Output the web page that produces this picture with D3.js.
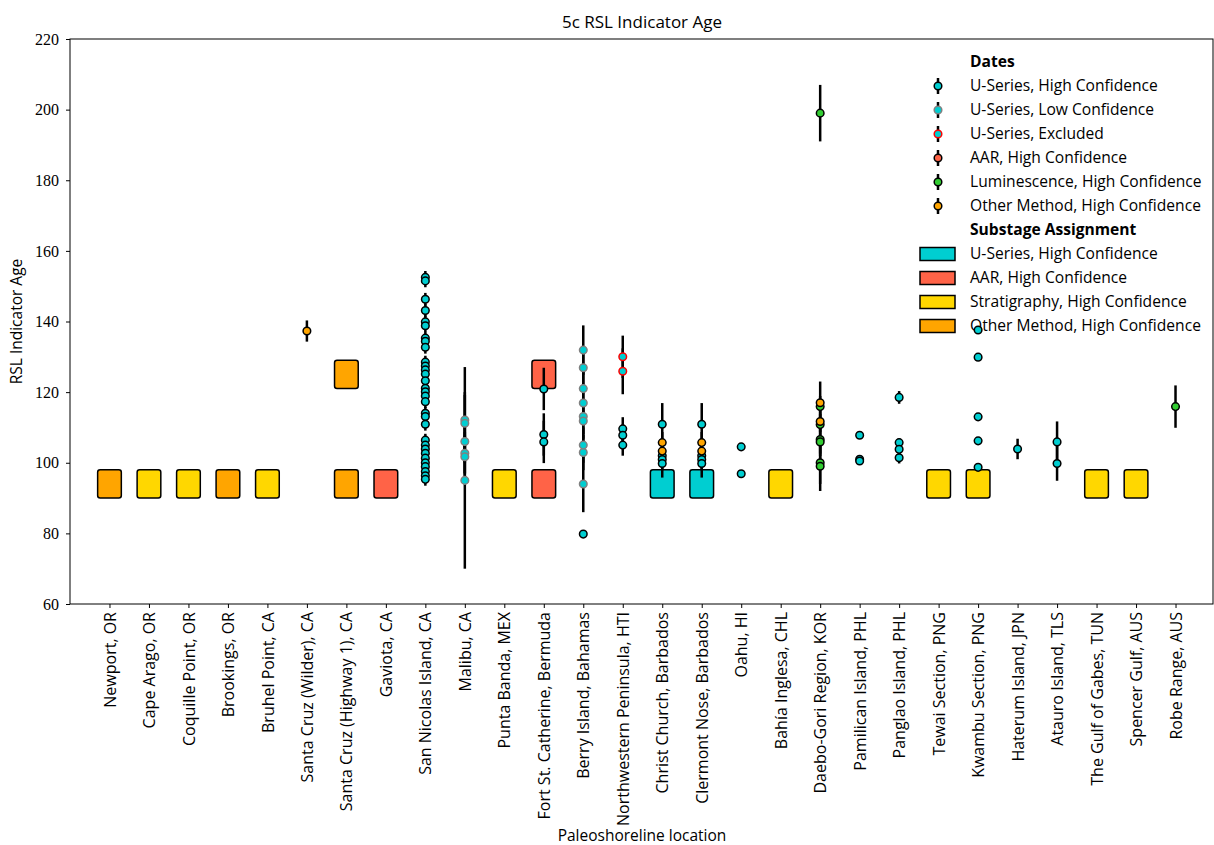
<!DOCTYPE html>
<html>
<head>
<meta charset="utf-8">
<script src="https://d3js.org/d3.v7.min.js"></script>
<style>
body { margin: 0; background: #fff; }
text { font-family: "Open Sans", Lato, sans-serif; }
</style>
</head>
<body>
<svg id="chart" width="1214" height="845"></svg>
<script>
// sites along the x axis
var sites = ["Newport, OR", "Cape Arago, OR", "Coquille Point, OR", "Brookings, OR", "Bruhel Point, CA",
  "Santa Cruz (Wilder), CA", "Santa Cruz (Highway 1), CA", "Gaviota, CA", "San Nicolas Island, CA", "Malibu, CA",
  "Punta Banda, MEX", "Fort St. Catherine, Bermuda", "Berry Island, Bahamas", "Northwestern Peninsula, HTI",
  "Christ Church, Barbados", "Clermont Nose, Barbados", "Oahu, HI", "Bahía Inglesa, CHL", "Daebo-Gori Region, KOR",
  "Pamilican Island, PHL", "Panglao Island, PHL", "Tewai Section, PNG", "Kwambu Section, PNG", "Haterum Island, JPN",
  "Atauro Island, TLS", "The Gulf of Gabes, TUN", "Spencer Gulf, AUS", "Robe Range, AUS"];

var yTicks = [60, 80, 100, 120, 140, 160, 180, 200, 220];

// substage boxes: site index, bottom, top, method
var boxSite   = [0, 1, 2, 3, 4, 6, 6, 7, 10, 11, 11, 14, 15, 17, 21, 22, 25, 26];
var boxBottom = [90, 90, 90, 90, 90, 121, 90, 90, 90, 121, 90, 90, 90, 90, 90, 90, 90, 90];
var boxTop    = [98, 98, 98, 98, 98, 129, 98, 98, 98, 129, 98, 98, 98, 98, 98, 98, 98, 98];
var boxMethod = ["other", "strat", "strat", "other", "strat", "other", "other", "aar", "strat", "aar", "aar",
  "useries", "useries", "strat", "strat", "strat", "strat", "strat"];

// dates: [site index, age, error]
var uHigh = [
  [8, 152.5, 1.8], [8, 151.5, 1.8], [8, 146.3, 1.8], [8, 143.1, 1.8], [8, 139.9, 1.8], [8, 138.8, 1.8],
  [8, 135.3, 1.8], [8, 134.4, 1.8], [8, 132.7, 1.8], [8, 128.5, 1.8], [8, 127.4, 1.8], [8, 126.3, 1.8],
  [8, 125.1, 1.8], [8, 123.2, 1.8], [8, 121.1, 1.8], [8, 120.1, 1.8], [8, 118.9, 1.8], [8, 117.3, 1.8],
  [8, 114.0, 1.8], [8, 113.1, 1.8], [8, 110.9, 1.8], [8, 106.4, 1.8], [8, 105.0, 1.8], [8, 103.9, 1.8],
  [8, 102.7, 1.8], [8, 101.3, 1.8], [8, 100.0, 1.8], [8, 98.9, 1.8], [8, 97.5, 1.8], [8, 96.3, 1.8], [8, 95.3, 1.8],
  [11, 120.9, 6], [11, 108.0, 6], [11, 105.9, 6],
  [12, 79.8, 0],
  [13, 109.6, 3.3], [13, 107.8, 3], [13, 105.0, 3],
  [14, 110.9, 6], [14, 102.0, 3], [14, 100.9, 3], [14, 99.8, 4],
  [15, 110.9, 6], [15, 102.0, 3], [15, 100.9, 3], [15, 99.8, 4],
  [16, 104.5, 0.5], [16, 96.9, 0.5],
  [19, 107.8, 0.8], [19, 101.0, 0.8], [19, 100.5, 0.6],
  [20, 118.5, 1.8], [20, 105.7, 1.2], [20, 103.8, 1.5], [20, 101.4, 1.6],
  [22, 137.6, 0], [22, 129.9, 0], [22, 113.0, 0], [22, 106.2, 0], [22, 98.7, 0],
  [23, 103.9, 2.9],
  [24, 105.9, 5.8], [24, 99.8, 4.9]
];
var uLow = [
  [9, 112.1, 15], [9, 111.2, 8], [9, 106.0, 6], [9, 102.7, 6], [9, 101.7, 6], [9, 95.0, 25],
  [12, 131.9, 7], [12, 126.9, 5], [12, 121.0, 5], [12, 116.9, 5], [12, 113.1, 5], [12, 111.8, 5],
  [12, 105.0, 5], [12, 102.9, 5], [12, 94.0, 8]
];
var uExcluded = [[13, 130.0, 6], [13, 125.9, 6.5]];
var lumHigh = [
  [18, 199.0, 8], [18, 115.9, 3], [18, 110.8, 3], [18, 106.6, 4], [18, 105.9, 4], [18, 100.0, 6], [18, 99.0, 7],
  [27, 115.9, 6]
];
var otherHigh = [
  [5, 137.3, 3],
  [14, 105.7, 3], [14, 103.3, 3],
  [15, 105.7, 3], [15, 103.3, 3],
  [18, 117.0, 6], [18, 111.7, 3]
];

var fills = { useries: "#00ced1", aar: "#ff6347", strat: "#ffd700", other: "#ffa500", lum: "#32cd32" };

var svg = d3.select("#chart");
var pL = 70, pR = 1214, pT = 39, pB = 604;

var x = d3.scaleLinear().domain([-1, 28]).range([pL, pR + 1]);
var y = d3.scaleLinear().domain([60, 220]).range([pB, pT]);

// boxes
var boxes = boxSite.map(function(s, i) { return { s: s, b: boxBottom[i], t: boxTop[i], m: boxMethod[i] }; });
var bw = x(0.3) - x(0);
svg.append("g").selectAll("rect").data(boxes).join("rect")
  .attr("x", function(d) { return x(d.s) - bw; })
  .attr("y", function(d) { return y(d.t); })
  .attr("width", bw * 2)
  .attr("height", function(d) { return y(d.b) - y(d.t); })
  .attr("rx", 2.5).attr("ry", 2.5)
  .attr("fill", function(d) { return fills[d.m]; })
  .attr("stroke", "#000").attr("stroke-width", 1.5);

// legend (drawn under the data, like the reference)
var lg = svg.append("g");
var lx = 970, lfs = 15.6;
lg.append("text").attr("x", lx).attr("y", 62).attr("dy", "0.35em").attr("font-weight", "bold")
  .attr("font-size", lfs).text("Dates");
var dateKeys = [
  ["U-Series, High Confidence", fills.useries, "#000"],
  ["U-Series, Low Confidence", fills.useries, "#808080"],
  ["U-Series, Excluded", fills.useries, "#ff0000"],
  ["AAR, High Confidence", fills.aar, "#000"],
  ["Luminescence, High Confidence", fills.lum, "#000"],
  ["Other Method, High Confidence", fills.other, "#000"]
];
dateKeys.forEach(function(k, i) {
  var yy = 86 + i * 24;
  lg.append("line").attr("x1", 938).attr("x2", 938).attr("y1", yy - 8).attr("y2", yy + 8)
    .attr("stroke", "#000").attr("stroke-width", 2.5);
  lg.append("circle").attr("cx", 938).attr("cy", yy).attr("r", 3.8)
    .attr("fill", k[1]).attr("stroke", k[2]).attr("stroke-width", 1.5);
  lg.append("text").attr("x", lx).attr("y", yy).attr("dy", "0.35em").attr("font-size", lfs).text(k[0]);
});
lg.append("text").attr("x", lx).attr("y", 230).attr("dy", "0.35em").attr("font-weight", "bold")
  .attr("font-size", lfs).text("Substage Assignment");
var boxKeys = [
  ["U-Series, High Confidence", fills.useries],
  ["AAR, High Confidence", fills.aar],
  ["Stratigraphy, High Confidence", fills.strat],
  ["Other Method, High Confidence", fills.other]
];
boxKeys.forEach(function(k, i) {
  var yy = 254 + i * 24;
  lg.append("rect").attr("x", 920).attr("y", yy - 6.5).attr("width", 35).attr("height", 13)
    .attr("fill", k[1]).attr("stroke", "#000").attr("stroke-width", 1.5);
  lg.append("text").attr("x", lx).attr("y", yy).attr("dy", "0.35em").attr("font-size", lfs).text(k[0]);
});

// dates
var dates = [];
uHigh.forEach(function(d) { dates.push({ s: d[0], a: d[1], e: d[2], fill: fills.useries, edge: "#000" }); });
uLow.forEach(function(d) { dates.push({ s: d[0], a: d[1], e: d[2], fill: fills.useries, edge: "#808080" }); });
uExcluded.forEach(function(d) { dates.push({ s: d[0], a: d[1], e: d[2], fill: fills.useries, edge: "#ff0000" }); });
lumHigh.forEach(function(d) { dates.push({ s: d[0], a: d[1], e: d[2], fill: fills.lum, edge: "#000" }); });
otherHigh.forEach(function(d) { dates.push({ s: d[0], a: d[1], e: d[2], fill: fills.other, edge: "#000" }); });

svg.append("g").selectAll("line").data(dates.filter(function(d) { return d.e > 0; })).join("line")
  .attr("x1", function(d) { return x(d.s); }).attr("x2", function(d) { return x(d.s); })
  .attr("y1", function(d) { return y(d.a - d.e); }).attr("y2", function(d) { return y(d.a + d.e); })
  .attr("stroke", "#000").attr("stroke-width", 2.5);

svg.append("g").selectAll("circle").data(dates).join("circle")
  .attr("cx", function(d) { return x(d.s); }).attr("cy", function(d) { return y(d.a); })
  .attr("r", 3.8)
  .attr("fill", function(d) { return d.fill; })
  .attr("stroke", function(d) { return d.edge; }).attr("stroke-width", 1.5);

// frame
svg.append("rect").attr("x", pL).attr("y", pT).attr("width", pR - pL - 1).attr("height", pB - pT)
  .attr("fill", "none").attr("stroke", "#000").attr("stroke-width", 1);

// axes
var yAxis = svg.append("g").attr("transform", "translate(" + pL + ",0)")
  .call(d3.axisLeft(y).tickValues(yTicks).tickSize(4).tickPadding(7));
yAxis.select(".domain").remove();
yAxis.selectAll("text").style("font-family", "'Liberation Serif', serif").attr("font-size", 16).attr("fill", "#000");

var xAxis = svg.append("g").attr("transform", "translate(0," + pB + ")")
  .call(d3.axisBottom(x).tickValues(d3.range(sites.length)).tickFormat(function(i) { return sites[i]; }).tickSize(4));
xAxis.select(".domain").remove();
xAxis.selectAll("text")
  .attr("font-size", 16).attr("fill", "#000")
  .attr("text-anchor", "end")
  .attr("transform", "rotate(-90)")
  .attr("x", -8).attr("y", 0).attr("dy", "0.35em");

// titles
svg.append("text").attr("x", (pL + pR) / 2).attr("y", 22).attr("dy", "0.35em").attr("text-anchor", "middle")
  .attr("font-size", 17).text("5c RSL Indicator Age");
svg.append("text").attr("x", (pL + pR) / 2).attr("y", 836).attr("dy", "0.35em").attr("text-anchor", "middle")
  .attr("font-size", 15.5).text("Paleoshoreline location");
svg.append("text").attr("transform", "translate(17," + ((pT + pB) / 2) + ") rotate(-90)")
  .attr("dy", "0.35em").attr("text-anchor", "middle").attr("font-size", 15.5).text("RSL Indicator Age");
</script>
</body>
</html>
